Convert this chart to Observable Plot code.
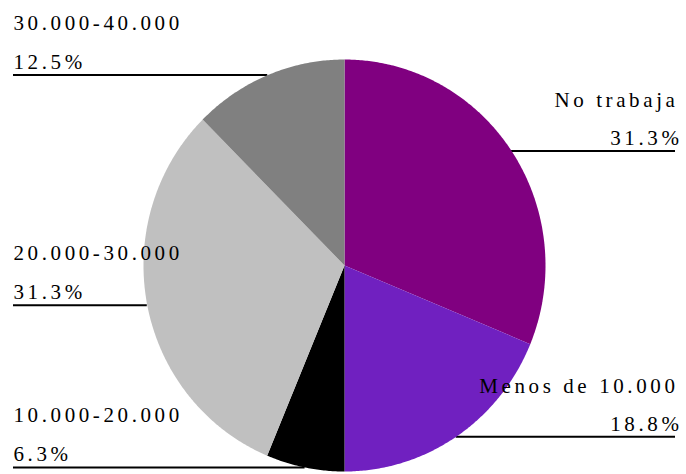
<!DOCTYPE html>
<html>
<head>
<meta charset="utf-8">
<script src="https://cdn.jsdelivr.net/npm/d3@7"></script>
<script src="https://cdn.jsdelivr.net/npm/@observablehq/plot@0.6"></script>
<style>
  html, body { margin: 0; padding: 0; background: #fff; }
</style>
</head>
<body>
<div id="chart"></div>
<script>
// ---- data (clockwise from 12 o'clock) ----
const categories = ["No trabaja", "Menos de 10.000", "10.000-20.000", "20.000-30.000", "30.000-40.000"];
const percents = [31.3, 18.8, 6.3, 31.3, 12.5];
const colors = ["#800080", "#7020C0", "#000000", "#C0C0C0", "#808080"];

// ---- layout ----
const W = 686, H = 474;
const cx = 344, cy = 265, rx = 201, ry = 206; // pie centre / radii (px)
const sideLeft = 13, sideRight = 675;          // label column edges (px)

const total = d3.sum(percents);
let acc = 0;
const slices = categories.map((name, i) => {
  const a0 = acc / total * 2 * Math.PI;
  acc += percents[i];
  const a1 = acc / total * 2 * Math.PI;
  return {name, value: percents[i], color: colors[i], a0, a1, mid: (a0 + a1) / 2};
});

// polygon vertices in unit-circle coordinates (y up), angle clockwise from top
const poly = [];
for (const s of slices) {
  poly.push({slice: s.name, color: s.color, x: 0, y: 0});
  const n = Math.max(2, Math.ceil((s.a1 - s.a0) / (Math.PI / 360)));
  for (let k = 0; k <= n; k++) {
    const a = s.a0 + (s.a1 - s.a0) * k / n;
    poly.push({slice: s.name, color: s.color, x: Math.sin(a), y: Math.cos(a)});
  }
  poly.push({slice: s.name, color: s.color, x: 0, y: 0});
}

const leftX = (sideLeft - cx) / rx, rightX = (sideRight - cx) / rx;
const labels = slices.map(s => {
  const ex = Math.sin(s.mid), ey = Math.cos(s.mid);
  const right = s.mid < Math.PI;
  return {
    name: s.name,
    pct: s.value.toFixed(1) + "%",
    ex, ey, right,
    side: right ? rightX : leftX
  };
});
const L = labels.filter(d => !d.right), R = labels.filter(d => d.right);

const font = "'Liberation Serif', 'Times New Roman', serif";
const fs = 21;
const plot = Plot.plot({
  width: W, height: H,
  margin: 0,
  x: {domain: [-cx / rx, (W - cx) / rx], range: [0, W], axis: null},
  y: {domain: [(cy - H) / ry, cy / ry], range: [H, 0], axis: null},
  color: {type: "identity"},
  style: {fontFamily: font, letterSpacing: "3.6px", background: "#fff", overflow: "visible"},
  marks: [
    Plot.ruleY(labels, {y: "ey", x1: "ex", x2: "side", stroke: "#000", strokeWidth: 2}),
    Plot.line(poly, {x: "x", y: "y", z: "slice", fill: "color", stroke: null, curve: "linear"}),
    Plot.text(L, {x: "side", y: "ey", text: "pct", textAnchor: "start", lineAnchor: "bottom", dy: -6, fontSize: fs, fontFamily: font, fill: "#000"}),
    Plot.text(L, {x: "side", y: "ey", text: "name", textAnchor: "start", lineAnchor: "bottom", dy: -45, fontSize: fs, fontFamily: font, fill: "#000"}),
    Plot.text(R, {x: "side", y: "ey", text: "pct", textAnchor: "end", lineAnchor: "bottom", dy: -6, dx: 7, fontSize: fs, fontFamily: font, fill: "#000"}),
    Plot.text(R, {x: "side", y: "ey", text: "name", textAnchor: "end", lineAnchor: "bottom", dy: -44, dx: 3, fontSize: fs, fontFamily: font, fill: "#000"})
  ]
});
document.getElementById("chart").appendChild(plot);
</script>
</body>
</html>
